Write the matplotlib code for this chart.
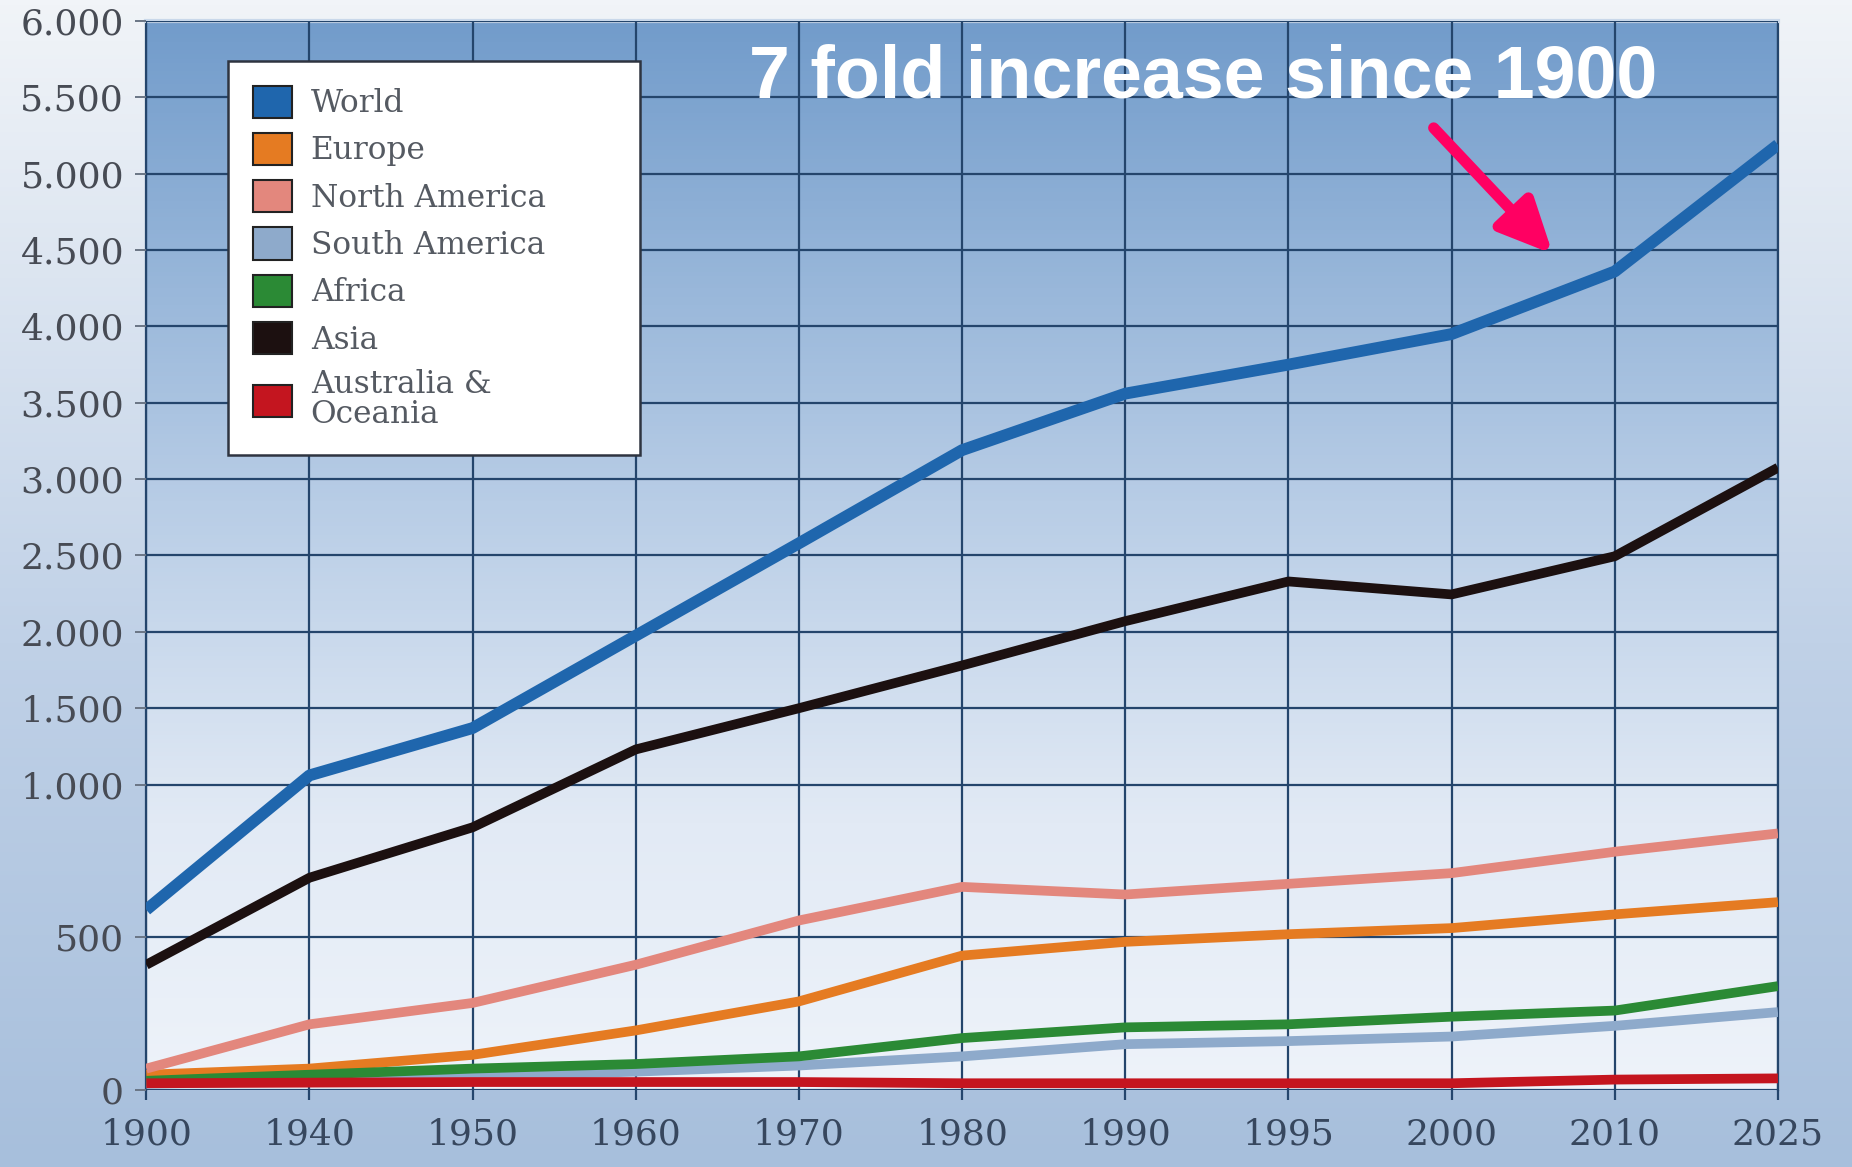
import matplotlib
matplotlib.use("Agg")
import matplotlib.pyplot as plt
import numpy as np
from matplotlib.colors import LinearSegmentedColormap
from matplotlib.patches import Patch

# Population by region (millions), categorical year axis
years = ["1900", "1940", "1950", "1960", "1970", "1980", "1990", "1995", "2000", "2010", "2025"]
world = [590, 1060, 1370, 1975, 2580, 3190, 3560, 3750, 3950, 4360, 5190]
europe = [50, 70, 115, 195, 290, 440, 485, 510, 530, 575, 615]
north_america = [70, 215, 285, 410, 555, 665, 640, 675, 710, 780, 840]
south_america = [20, 30, 45, 60, 80, 110, 150, 160, 175, 210, 255]
africa = [30, 50, 70, 85, 110, 170, 205, 215, 240, 260, 340]
asia = [410, 695, 860, 1230, 1500, 1780, 2070, 2330, 2245, 2495, 3075]
oceania = [22, 24, 26, 26, 26, 22, 22, 22, 22, 34, 38]

series = [
    ("World", world, "#1f66ad"),
    ("Europe", europe, "#e57b22"),
    ("North America", north_america, "#e3877d"),
    ("South America", south_america, "#8eaacb"),
    ("Africa", africa, "#2b8a35"),
    ("Asia", asia, "#1c1010"),
    ("Australia &\nOceania", oceania, "#c4151f"),
]
y_ticks = [0, 500, 1000, 1500, 2000, 2500, 3000, 3500, 4000, 4500, 5000, 5500, 6000]


def fwd(y):
    y = np.asarray(y, dtype=float)
    return np.where(y <= 1000, 2 * y, y + 1000)


def inv(v):
    v = np.asarray(v, dtype=float)
    return np.where(v <= 2000, v / 2, v - 1000)


fig = plt.figure(figsize=(18.52, 11.67), dpi=100)

# page background
bg = fig.add_axes([0, 0, 1, 1], zorder=-10)
bg_cmap = LinearSegmentedColormap.from_list(
    "bg", [(0, "#a7bfdc"), (0.45, "#c0d1e7"), (1, "#f1f4f8")])
bg.imshow(np.linspace(0, 1, 256).reshape(-1, 1), cmap=bg_cmap, aspect="auto",
          origin="lower", extent=[0, 1, 0, 1])
bg.axis("off")

ax = fig.add_axes([0.079, 0.066, 0.881, 0.916])
ax.set_yscale("function", functions=(fwd, inv))
ax.set_ylim(0, 6000)
x = np.arange(len(years))
ax.set_xlim(x[0], x[-1])

# plot area gradient, steel blue at the top fading to near white
area_cmap = LinearSegmentedColormap.from_list(
    "area", [(0, "#eef3fa"), (0.25, "#e2eaf5"), (0.55, "#b8cde6"), (1, "#729ccb")])
ax.imshow(np.linspace(0, 1, 256).reshape(-1, 1), cmap=area_cmap, aspect="auto",
          origin="lower", extent=[0, 1, 0, 1], transform=ax.transAxes, zorder=0)

ax.set_xticks(x)
ax.set_xticklabels(years)
ax.set_yticks(y_ticks)
ax.set_yticklabels([f"{v:,}".replace(",", ".") for v in y_ticks])
ax.grid(True, color="#24456c", lw=1.6, zorder=1)
ax.set_axisbelow(False)

for label, vals, color in series:
    lw = 8.5 if label == "World" else 7
    ax.plot(x, vals, color=color, lw=lw, solid_capstyle="butt",
            solid_joinstyle="round", zorder=3)

for lab in ax.get_yticklabels():
    lab.set_fontfamily("DejaVu Serif")
    lab.set_fontsize(26)
    lab.set_color("#474b54")
for lab in ax.get_xticklabels():
    lab.set_fontfamily("DejaVu Serif")
    lab.set_fontsize(26)
    lab.set_color("#37475e")
ax.tick_params(axis="y", length=8, width=1.4, color="#6a7585", pad=8)
ax.tick_params(axis="x", length=7, width=1.6, color="#24456c", pad=13)

for side in ["left", "right"]:
    ax.spines[side].set_color("#24456c")
    ax.spines[side].set_linewidth(1.6)
ax.spines["top"].set_color("#c9d8ea")
ax.spines["top"].set_linewidth(3)
ax.spines["bottom"].set_visible(False)

handles = [Patch(facecolor=c, edgecolor="#222222", lw=1.5) for _, _, c in series]
leg = ax.legend(handles, [s[0] for s in series], loc="upper left",
                bbox_to_anchor=(0.05, 0.5, 0.2525, 0.463), mode="expand",
                frameon=True, fancybox=False, framealpha=1, edgecolor="#2e3440",
                handlelength=1.25, handleheight=1.2, labelspacing=0.44,
                borderpad=0.8, handletextpad=0.6, borderaxespad=0,
                prop={"family": "DejaVu Serif", "size": 22.5})
leg.get_frame().set_linewidth(1.8)
leg.set_zorder(5)
for t in leg.get_texts():
    t.set_color("#555a62")
    t.set_linespacing(0.95)

ax.text(0.648, 0.928, "7 fold increase since 1900", transform=ax.transAxes,
        ha="center", va="baseline", color="white", fontweight="bold",
        fontsize=53, family="Liberation Sans", zorder=6)
ax.annotate("", xy=(0.862, 0.782), xytext=(0.789, 0.900),
            xycoords="axes fraction", textcoords="axes fraction",
            arrowprops=dict(arrowstyle="-|>,head_length=3.2,head_width=1.5",
                            color="#ff0062", lw=8, shrinkA=0, shrinkB=0),
            zorder=6)

fig.savefig("out.png", dpi=100)
